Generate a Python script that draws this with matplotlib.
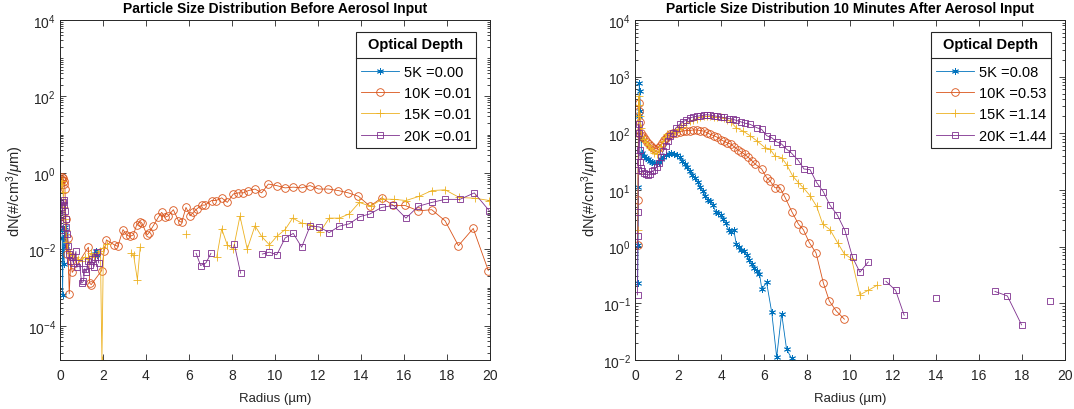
import matplotlib
matplotlib.use('Agg')
import matplotlib.pyplot as plt
from matplotlib.lines import Line2D
from matplotlib import ticker
import numpy as np

nan = np.nan

plt.rcParams['font.family'] = ['Liberation Sans', 'DejaVu Sans']
plt.rcParams['mathtext.fontset'] = 'custom'
plt.rcParams['mathtext.rm'] = 'Liberation Sans'
plt.rcParams['mathtext.it'] = 'Liberation Sans:italic'
plt.rcParams['mathtext.bf'] = 'Liberation Sans:bold'

# ---- before aerosol input (radius in um, log10 of dN) ----
r5_before = [0.10, 0.12, 0.15, 0.19, 0.22, 0.25, 0.28, nan, 1.62, 1.68, 1.74]
lg5_before = [-1.5, -3.19, -1.7, -2.38, -1.6, -1.4, -1.9, nan, -2.12, -2.05, -2.15]

r10_before = [0.05, 0.08, 0.11, 0.14, 0.17, 0.20, 0.23, 0.27, 0.31, 0.36,
              0.43, 0.50, 0.57, 1.32, 1.38, 1.45, 1.94, 2.05, 2.16, 2.53,
              2.69, 2.93, 3.09, 3.25, 3.41, 3.57, 3.73, 3.81, 4.05, 4.13,
              4.34, 4.57, 4.73, 4.88, 5.04, 5.27, 5.51, 5.66, 5.86, 6.05,
              6.20, 6.36, 6.59, 6.74, 7.05, 7.26, 7.52, 7.78, 8.06, 8.29,
              8.53, 8.76, 9.07, 9.38, 9.69, 10.08, 10.47, 10.85, 11.24, 11.63,
              12.02, 12.48, 12.95, 13.41, 13.88, 14.42, 14.96, 15.51, 16.05, 16.67,
              17.29, 17.91, 18.53, 19.22, 19.92]
lg10_before = [-0.15, -0.10, -0.18, -0.13, -0.28, -0.22, -0.42, -1.2, -2.12, -1.7,
               -3.16, -2.3, -2.6, -1.94, -2.88, -2.92, -2.55, -2.05, -1.75, -1.88,
               -1.92, -1.48, -1.62, -1.66, -1.62, -1.35, -1.27, -1.31, -1.62, -1.57,
               -1.38, -1.16, -1.03, -1.16, -1.12, -0.96, -1.25, -1.29, -0.90, -1.12,
               -1.03, -0.94, -0.84, -0.84, -0.72, -0.72, -0.65, -0.77, -0.55, -0.52,
               -0.52, -0.46, -0.42, -0.52, -0.29, -0.33, -0.39, -0.37, -0.39, -0.33,
               -0.42, -0.42, -0.46, -0.52, -0.61, -0.87, -0.65, -0.85, -0.85, -0.99,
               -0.96, -1.25, -1.90, -1.45, -2.55]

r15_before = [0.05, 0.10, 0.14, 0.18, 0.22, 0.27, 0.32, 0.38, 0.45, 0.55,
              0.70, 0.85, 1.00, 1.15, 1.30, 1.45, 1.60, 1.75, 1.88, 1.95,
              2.02, 2.20, nan, 3.30, 3.42, 3.60, 3.73, nan, 5.88, nan,
              7.29, 7.52, 7.78, 8.06, 8.37, 8.71, 9.07, 9.38, 9.74, 10.08,
              10.47, 10.82, 11.24, 11.63, 12.09, 12.52, 12.99, 13.45, 13.92, 14.45,
              14.99, 15.55, 16.09, 16.71, 17.29, 17.91, 18.57, 19.30, 19.97]
lg15_before = [-0.3, -0.2, -0.5, -0.9, -1.2, -1.5, -1.8, -2.0, -2.1, -2.15,
               -2.2, -2.25, -2.3, -2.2, -2.25, -2.1, -2.2, -2.1, -2.05, -4.89,
               -1.95, -1.85, nan, -2.1, -2.14, -2.79, -1.94, nan, -1.6, nan,
               -2.20, -1.46, -1.88, -2.00, -1.13, -1.99, -1.38, -1.66, -1.88, -1.66,
               -1.48, -1.18, -1.31, -1.35, -1.55, -1.18, -1.18, -1.07, -0.77, -0.87,
               -0.68, -0.69, -0.72, -0.61, -0.46, -0.44, -0.64, -0.66, -0.72]

r20_before = [0.05, 0.08, 0.11, 0.14, 0.17, 0.20, 0.23, 0.26, 0.30, 0.34,
              0.39, 0.43, 0.48, 0.55, 0.62, 0.74, 0.78, 0.90, 1.01, 1.09,
              1.15, 1.22, 1.30, 1.40, 1.47, 1.58, 1.65, 1.72, 1.80, nan,
              6.33, 6.54, 6.79, 7.02, nan, 8.11, 8.40, nan,
              9.41, 9.74, 10.08, 10.47, 10.85, 11.24, 11.63, 12.06, 12.52, 12.99,
              13.45, 13.95, 14.42, 14.96, 15.51, 16.09, 16.67, 17.29, 17.91, 18.60,
              19.27, 19.97]
lg20_before = [-1.5, -1.1, -0.9, -0.75, -0.7, -0.85, -1.0, -1.2, -1.4, -1.6,
               -1.9, -2.12, -2.3, -2.2, -2.35, -2.05, -2.47, -2.35, -2.88, -2.83,
               -2.5, -2.6, -2.3, -2.4, -2.26, -2.45, -2.2, -2.07, -2.35, nan,
               -2.10, -2.42, -2.35, -2.10, nan, -1.87, -2.62, nan,
               -2.12, -2.07, -2.14, -1.70, -1.58, -1.94, -1.39, -1.41, -1.56, -1.39,
               -1.33, -1.14, -1.07, -0.90, -0.85, -1.18, -0.87, -0.77, -0.69, -0.69,
               -0.52, -0.99]

# ---- 10 minutes after aerosol input ----
r5_after = [0.12, 0.14, 0.16, 0.18, 0.20, 0.22, 0.25, 0.28, 0.32, 0.40,
            0.50, 0.60, 0.70, 0.80, 0.90, 1.00, 1.10, 1.20, 1.32, 1.44,
            1.56, 1.68, 1.83, 1.95, 2.07, 2.19, 2.31, 2.43, 2.55, 2.67,
            2.79, 2.91, 3.03, 3.15, 3.27, 3.39, 3.51, 3.63, 3.75, 3.87,
            3.99, 4.11, 4.23, 4.35, 4.47, 4.59, 4.71, 4.83, 4.95, 5.07,
            5.19, 5.31, 5.43, 5.55, 5.67, 5.79, 5.90, 6.12, 6.36, 6.59,
            6.82, 7.05, 7.28]
lg5_after = [-0.64, 0.03, 1.05, 2.3, 2.89, 2.75, 2.4, 1.9, 1.65, 1.60,
             1.56, 1.54, 1.52, 1.50, 1.48, 1.47, 1.50, 1.54, 1.58, 1.61,
             1.63, 1.645, 1.64, 1.62, 1.58, 1.52, 1.46, 1.40, 1.33, 1.27,
             1.22, 1.14, 1.06, 0.98, 0.90, 0.83, 0.80, 0.73, 0.62, 0.60,
             0.56, 0.48, 0.42, 0.30, 0.26, 0.30, 0.05, 0.0, -0.05, -0.08,
             -0.15, -0.23, -0.30, -0.38, -0.43, -0.48, -0.75, -0.63, -1.16, -1.95,
             -1.18, -1.81, -1.97]

r10_after = [0.12, 0.14, 0.16, 0.18, 0.20, 0.23, 0.27, 0.32, 0.38, 0.45,
             0.55, 0.65, 0.75, 0.85, 0.95, 1.05, 1.15, 1.25, 1.35, 1.45,
             1.55, 1.65, 1.78, 1.91, 2.07, 2.23, 2.39, 2.55, 2.71, 2.87,
             3.03, 3.19, 3.35, 3.51, 3.67, 3.83, 3.98, 4.14, 4.30, 4.46,
             4.62, 4.78, 4.94, 5.10, 5.26, 5.43, 5.58, 5.89, 6.12, 6.28,
             6.51, 6.74, 6.98, 7.29, 7.60, 7.83, 8.11, 8.42, 8.76, 9.04,
             9.35, 9.74]
lg10_after = [0.03, 0.83, 2.0, 2.54, 2.4, 2.2, 2.0, 1.93, 1.95, 1.90,
              1.85, 1.82, 1.78, 1.75, 1.73, 1.74, 1.78, 1.83, 1.88, 1.92,
              1.95, 1.98, 2.0, 2.01, 2.03, 2.04, 2.05, 2.05, 2.06, 2.06,
              2.05, 2.04, 2.01, 1.98, 1.96, 1.93, 1.89, 1.86, 1.83, 1.81,
              1.76, 1.71, 1.67, 1.63, 1.58, 1.52, 1.46, 1.37, 1.22, 1.16,
              1.04, 1.04, 0.87, 0.62, 0.40, 0.30, 0.07, -0.11, -0.64, -0.96,
              -1.13, -1.28]

r15_after = [0.12, 0.14, 0.16, 0.18, 0.20, 0.23, 0.27, 0.32, 0.40, 0.50,
             0.60, 0.70, 0.80, 0.90, 1.00, 1.10, 1.20, 1.30, 1.40, 1.50,
             1.62, 1.75, 1.88, 2.00, 2.12, 2.23, 2.39, 2.55, 2.71, 2.87,
             3.03, 3.19, 3.35, 3.51, 3.67, 3.83, 3.98, 4.14, 4.30, 4.46,
             4.70, 5.02, 5.35, 5.66, 6.04, 6.28, 6.51, 6.82, 7.05, 7.33,
             7.60, 7.83, 8.14, 8.45, 8.73, 9.07, 9.42, 9.74, 10.07, 10.46,
             10.85, 11.27]
lg15_after = [0.30, 1.3, 2.3, 2.66, 2.5, 2.3, 2.1, 1.95, 1.90, 1.85,
              1.80, 1.75, 1.70, 1.66, 1.64, 1.68, 1.78, 1.86, 1.93, 1.98,
              1.99, 2.02, 2.05, 2.08, 2.11, 2.14, 2.18, 2.21, 2.24, 2.26,
              2.28, 2.30, 2.30, 2.30, 2.29, 2.28, 2.28, 2.27, 2.24, 2.20,
              2.10, 2.04, 1.96, 1.87, 1.75, 1.72, 1.60, 1.57, 1.45, 1.25,
              1.13, 1.04, 0.90, 0.71, 0.40, 0.30, 0.07, -0.13, -0.21, -0.85,
              -0.77, -0.68]

r20_after = [0.12, 0.13, 0.14, 0.15, 0.16, 0.18, 0.20, 0.22, 0.25, 0.28,
             0.32, 0.40, 0.50, 0.60, 0.70, 0.80, 0.90, 1.00, 1.10, 1.20,
             1.30, 1.43, 1.55, 1.65, 1.75, 1.90, 2.07, 2.23, 2.39, 2.55,
             2.71, 2.87, 3.03, 3.19, 3.35, 3.51, 3.67, 3.83, 3.98, 4.14,
             4.38, 4.54, 4.70, 4.94, 5.10, 5.35, 5.66, 5.89, 6.12, 6.37,
             6.59, 6.82, 7.05, 7.28, 7.60, 7.86, 8.14, 8.45, 8.76, 9.07,
             9.41, 9.77, 10.12, 10.46, 10.85, nan, 11.67, 12.12, 12.52, nan,
             13.98, nan, 16.74, 17.32, 17.98, nan, 19.30]
lg20_after = [-0.85, 0.18, 0.62, 1.36, 1.6, 2.16, 2.0, 1.7, 1.5, 1.38,
              1.33, 1.30, 1.28, 1.26, 1.29, 1.33, 1.36, 1.40, 1.48, 1.58,
              1.68, 1.77, 1.87, 1.95, 2.01, 2.09, 2.16, 2.20, 2.24, 2.27,
              2.29, 2.30, 2.31, 2.32, 2.33, 2.32, 2.31, 2.30, 2.29, 2.28,
              2.26, 2.25, 2.23, 2.20, 2.18, 2.16, 2.10, 2.07, 1.96, 1.92,
              1.85, 1.81, 1.72, 1.65, 1.52, 1.37, 1.36, 1.13, 0.97, 0.73,
              0.56, 0.28, -0.19, -0.45, -0.27, nan, -0.61, -0.77, -1.21, nan,
              -0.91, nan, -0.79, -0.87, -1.38, nan, -0.95]

labels_before = ['5K =0.00', '10K =0.01', '15K =0.01', '20K =0.01']
labels_after = ['5K =0.08', '10K =0.53', '15K =1.14', '20K =1.44']

colors = ['#0072BD', '#D95319', '#EDB120', '#7E2F8E']
markers = [(6, 2, 0), 'o', '+', 's']
msizes = [5, 5.5, 6, 4.5]
axcol = '#262626'


def draw_panel(ax, series, labels, title, ylim, major_locator):
    for (r, lg), c, m, ms in zip(series, colors, markers, msizes):
        ax.plot(r, 10.0 ** np.array(lg), color=c, marker=m, markersize=ms,
                markerfacecolor='none', markeredgewidth=0.6, linewidth=0.6)
    ax.set_yscale('log')
    ax.set_xlim(0, 20)
    ax.set_ylim(*ylim)
    ax.set_xticks(np.arange(0, 21, 2))
    ax.yaxis.set_major_locator(major_locator)
    ax.yaxis.set_minor_locator(ticker.LogLocator(base=10, subs=np.arange(1, 10) * 1.0, numticks=50))
    ax.yaxis.set_minor_formatter(ticker.NullFormatter())
    ax.tick_params(which='both', direction='in', top=True, right=True,
                   color=axcol, labelcolor=axcol, labelsize=10, width=0.6)
    ax.tick_params(which='major', length=4)
    ax.tick_params(which='minor', length=2)
    ax.tick_params(axis='x', pad=6)
    ax.tick_params(axis='y', pad=3)
    for s in ax.spines.values():
        s.set_color(axcol)
        s.set_linewidth(0.7)
    ax.set_xlabel('Radius (\u00b5m)', fontsize=9.5, color=axcol, labelpad=7)
    ax.set_ylabel(r'dN(#/cm$^3$/$\mu$m)', fontsize=10.5, color=axcol, labelpad=1)
    ax.set_title(title, fontsize=10, fontweight='bold', color='black', pad=6)
    leg = ax.legend(labels, title='Optical Depth', loc='upper right',
                    bbox_to_anchor=(0.968, 0.965), borderaxespad=0, fontsize=10.5,
                    title_fontproperties={'weight': 'bold', 'size': 10.5},
                    fancybox=False, framealpha=1, edgecolor=axcol,
                    handlelength=2.6, handletextpad=0.35, labelspacing=0.5,
                    borderpad=0.35)
    leg._legend_box.sep = 10
    leg.get_frame().set_linewidth(0.8)
    return leg


fig = plt.figure(figsize=(10.74, 4.10), dpi=100)
ax1 = fig.add_axes([60 / 1074, 1 - 361 / 410, 430 / 1074, 340 / 410])
ax2 = fig.add_axes([635 / 1074, 1 - 361 / 410, 430 / 1074, 340 / 410])

before = [(r5_before, lg5_before), (r10_before, lg10_before),
          (r15_before, lg15_before), (r20_before, lg20_before)]
after = [(r5_after, lg5_after), (r10_after, lg10_after),
         (r15_after, lg15_after), (r20_after, lg20_after)]

ymin_before = 10.0 ** np.nanmin(lg15_before)
leg1 = draw_panel(ax1, before, labels_before,
                  'Particle Size Distribution Before Aerosol Input',
                  (ymin_before, 1e4), ticker.FixedLocator(10.0 ** np.arange(-4, 5, 2)))
leg2 = draw_panel(ax2, after, labels_after,
                  'Particle Size Distribution 10 Minutes After Aerosol Input',
                  (1e-2, 1e4), ticker.LogLocator(base=10, numticks=20))

# divider line under the legend title, like the original
fig.canvas.draw()
renderer = fig.canvas.get_renderer()
W, H = fig.bbox.width, fig.bbox.height
for leg in (leg1, leg2):
    lb = leg.get_window_extent(renderer)
    tb = leg.get_title().get_window_extent(renderer)
    t0 = leg.get_texts()[0].get_window_extent(renderer)
    y = (tb.y0 + t0.y1) / 2
    fig.add_artist(Line2D([lb.x0 / W, lb.x1 / W], [y / H, y / H],
                          color=axcol, linewidth=0.8))

fig.savefig('out.png', dpi=100)
